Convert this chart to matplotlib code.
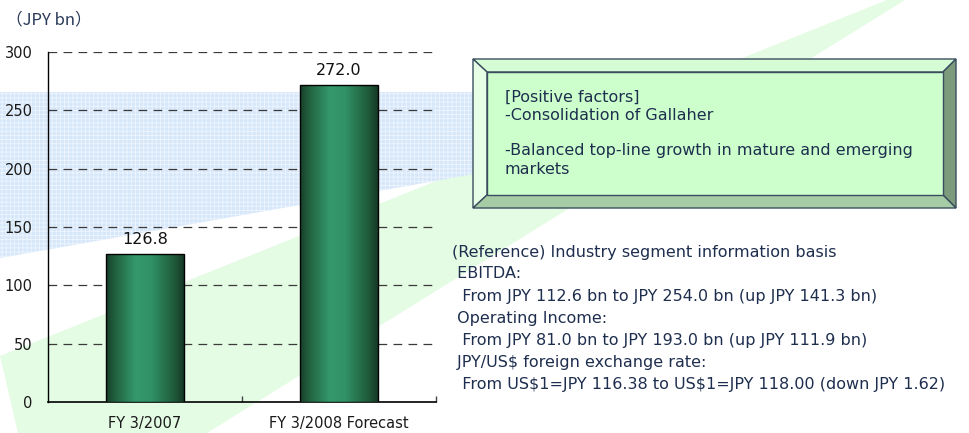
import matplotlib
matplotlib.use("Agg")
import matplotlib.pyplot as plt
import numpy as np
from matplotlib.patches import Polygon
from matplotlib.colors import LinearSegmentedColormap

plt.rcParams["text.parse_math"] = False

# data
categories = ["FY 3/2007", "FY 3/2008 Forecast"]
values = [126.8, 272.0]
y_ticks = [0, 50, 100, 150, 200, 250, 300]
unit_label = "（JPY bn）"

box_lines = ["[Positive factors]",
             "-Consolidation of Gallaher",
             "",
             "-Balanced top-line growth in mature and emerging",
             "markets"]

ref_lines = ["(Reference) Industry segment information basis",
             " EBITDA:",
             "  From JPY 112.6 bn to JPY 254.0 bn (up JPY 141.3 bn)",
             " Operating Income:",
             "  From JPY 81.0 bn to JPY 193.0 bn (up JPY 111.9 bn)",
             " JPY/US$ foreign exchange rate:",
             "  From US$1=JPY 116.38 to US$1=JPY 118.00 (down JPY 1.62)"]

W, H = 970, 433
fig = plt.figure(figsize=(W / 100, H / 100), dpi=100)

# background layer in pixel coordinates
bg = fig.add_axes([0, 0, 1, 1])
bg.set_xlim(0, W)
bg.set_ylim(H, 0)
bg.axis("off")

# light green diagonal band
bg.add_patch(Polygon([(0, 356), (18, 433), (207, 433), (905, 0), (887, 0)],
                     closed=True, facecolor="#e4fbe4", edgecolor="none", zorder=1))
# dotted blue band
plt.rcParams["hatch.linewidth"] = 0.6
bg.add_patch(Polygon([(0, 92), (480, 92), (480, 173), (0, 258)], closed=True,
                     facecolor="#d6e7fa", edgecolor="#eef5fe", hatch="++++",
                     linewidth=0, zorder=2))

# bevelled box
ox0, oy0, ox1, oy1 = 473, 59, 956, 208
ix0, iy0, ix1, iy1 = 487, 72, 943, 195
edge = "#3a4d5e"
bg.add_patch(Polygon([(ox0, oy0), (ox1, oy0), (ix1, iy0), (ix0, iy0)],
                     facecolor="#d6fcd6", edgecolor=edge, lw=1, zorder=3))
bg.add_patch(Polygon([(ox0, oy0), (ix0, iy0), (ix0, iy1), (ox0, oy1)],
                     facecolor="#e6fee6", edgecolor=edge, lw=1, zorder=3))
bg.add_patch(Polygon([(ox1, oy0), (ox1, oy1), (ix1, iy1), (ix1, iy0)],
                     facecolor="#7c9a7c", edgecolor=edge, lw=1, zorder=3))
bg.add_patch(Polygon([(ox0, oy1), (ix0, iy1), (ix1, iy1), (ox1, oy1)],
                     facecolor="#a6cca6", edgecolor=edge, lw=1, zorder=3))
bg.add_patch(Polygon([(ix0, iy0), (ix1, iy0), (ix1, iy1), (ix0, iy1)],
                     facecolor="#ccffcc", edgecolor=edge, lw=1, zorder=3))

txt_color = "#1e2e4e"
box_y = [97, 116, 133, 151, 169]
for line, yy in zip(box_lines, box_y):
    bg.text(505, yy, line, fontsize=11.5, color=txt_color, va="center", ha="left", zorder=4)

for i, line in enumerate(ref_lines):
    bg.text(452, 252 + 22 * i, line, fontsize=11.5, color=txt_color,
            va="center", ha="left", zorder=4)

bg.text(6, 20, unit_label, fontsize=12, color="#2a3a5a", va="center", ha="left",
        family=["Noto Sans CJK JP", "DejaVu Sans"])

# chart axes
ax = fig.add_axes([48 / W, (H - 402) / H, 388 / W, 350 / H])
ax.patch.set_alpha(0)
x = np.arange(len(categories))
bars = ax.bar(x, values, width=0.4, color="#2e8b5e", edgecolor="black",
              linewidth=1, zorder=3)

cmap = LinearSegmentedColormap.from_list(
    "cyl", [(0, "#173f2a"), (0.12, "#22623f"), (0.38, "#33996c"),
            (0.58, "#309266"), (0.88, "#1f5a3a"), (1, "#163a27")])
grad = np.linspace(0, 1, 256).reshape(1, -1)
for b in bars:
    x0, y0 = b.get_xy()
    im = ax.imshow(grad, extent=[x0, x0 + b.get_width(), y0, y0 + b.get_height()],
                   aspect="auto", cmap=cmap, zorder=3.5)
    im.set_clip_path(b)
    b.set_facecolor("none")
    b.set_zorder(4)

for xi, v in zip(x, values):
    ax.text(xi, v + 6, f"{v:.1f}", ha="center", va="bottom", fontsize=11.5, color="#111")

ax.set_xlim(-0.5, 1.5)
ax.set_ylim(0, 300)
ax.set_yticks(y_ticks)
ax.set_yticklabels([str(t) for t in y_ticks], fontsize=10.5, color="#1a1a1a")
ax.tick_params(axis="y", length=0, pad=11)
ax.set_xticks(x)
ax.set_xticklabels(categories, fontsize=10.5, color="#1a1a1a")
ax.tick_params(axis="x", which="major", length=0, pad=10)
ax.set_xticks([0.5, 1.5], minor=True)
ax.tick_params(axis="x", which="minor", direction="in", length=4, width=1, color="#444")

for yv in y_ticks[1:]:
    ax.axhline(yv, color="#3a3a3a", linestyle=(0, (7, 5)), linewidth=0.9, zorder=2)

for s in ["top", "right"]:
    ax.spines[s].set_visible(False)
ax.spines["left"].set_color("black")
ax.spines["bottom"].set_color("black")
ax.spines["left"].set_linewidth(1)
ax.spines["bottom"].set_linewidth(1.2)

fig.savefig("out.png", dpi=100)
